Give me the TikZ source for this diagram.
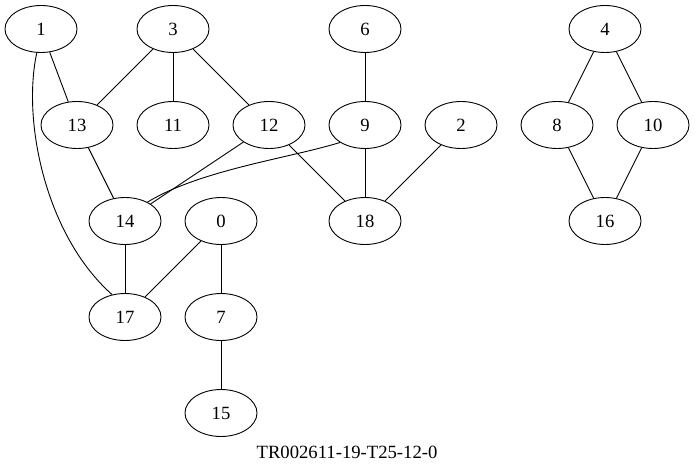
\documentclass[tikz,border=0pt]{standalone}
\usepackage{fontspec}
\setmainfont{Liberation Serif}
\usetikzlibrary{shapes.geometric}
\begin{document}
\begin{tikzpicture}[x=1pt,y=-1pt,
  vtx/.style={draw,ellipse,minimum width=72pt,minimum height=47pt,inner sep=0pt,line width=0.9pt,font=\fontsize{18.67}{22}\selectfont},
  edge/.style={line width=0.9pt}]
\useasboundingbox (0,0) rectangle (695,473);
\node[vtx] (n1) at (41,29) {1};
\node[vtx] (n3) at (173,29) {3};
\node[vtx] (n6) at (365,29) {6};
\node[vtx] (n4) at (605,29) {4};
\node[vtx] (n13) at (77,125) {13};
\node[vtx] (n11) at (173,125) {11};
\node[vtx] (n12) at (269,125) {12};
\node[vtx] (n9) at (365,125) {9};
\node[vtx] (n2) at (461,125) {2};
\node[vtx] (n8) at (557,125) {8};
\node[vtx] (n10) at (653,125) {10};
\node[vtx] (n14) at (125,221) {14};
\node[vtx] (n0) at (221,221) {0};
\node[vtx] (n18) at (365,221) {18};
\node[vtx] (n16) at (605,221) {16};
\node[vtx] (n17) at (125,317) {17};
\node[vtx] (n7) at (221,317) {7};
\node[vtx] (n15) at (221,413) {15};
\node[font=\fontsize{18.67}{22}\selectfont] (title) at (347,452) {TR002611-19-T25-12-0};
\draw[edge] (n1) -- (n13);
\draw[edge] (n1.-100) .. controls (22,120) and (45,235) .. (n17.120);
\draw[edge] (n3) -- (n13);
\draw[edge] (n3) -- (n11);
\draw[edge] (n3) -- (n12);
\draw[edge] (n6) -- (n9);
\draw[edge] (n13) -- (n14);
\draw[edge] (n12) -- (n14);
\draw[edge] (n9.-145) .. controls (290,158) and (200,170) .. (n14.40);
\draw[edge] (n12) -- (n18);
\draw[edge] (n9) -- (n18);
\draw[edge] (n2) -- (n18);
\draw[edge] (n14) -- (n17);
\draw[edge] (n0) -- (n17);
\draw[edge] (n0) -- (n7);
\draw[edge] (n7) -- (n15);
\draw[edge] (n4) -- (n8);
\draw[edge] (n4) -- (n10);
\draw[edge] (n8) -- (n16);
\draw[edge] (n10) -- (n16);
\end{tikzpicture}
\end{document}
